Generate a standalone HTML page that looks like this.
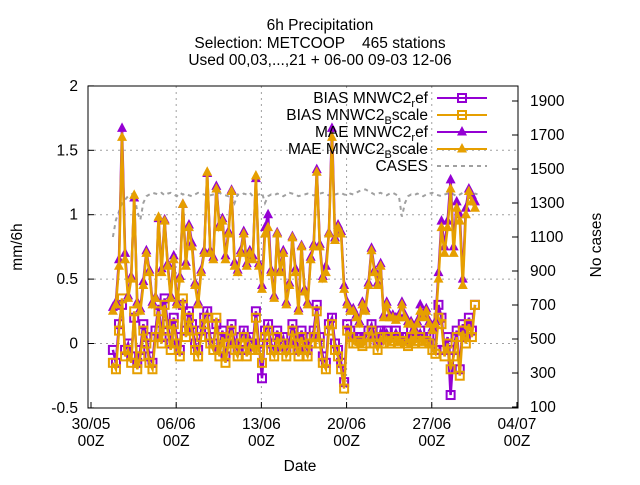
<!DOCTYPE html>
<html><head><meta charset="utf-8"><style>
body{margin:0;background:#fff}
svg{font-family:"Liberation Sans","DejaVu Sans",sans-serif}
</style></head><body>
<svg id="c" width="640" height="480" viewBox="0 0 640 480">
<g id="grid"></g>
<g id="axes"></g>
<g id="series"></g>
<g id="legend"></g>
<text x="320" y="30" text-anchor="middle" font-size="15.5">6h Precipitation</text>
<text x="320" y="48" text-anchor="middle" font-size="15.5" style="white-space:pre">Selection: METCOOP    465 stations</text>
<text x="320" y="65" text-anchor="middle" font-size="15.5">Used 00,03,...,21 + 06-00 09-03 12-06</text>
<text x="300" y="471" text-anchor="middle" font-size="15.5">Date</text>
<text transform="translate(22,247) rotate(-90)" text-anchor="middle" font-size="15.5">mm/6h</text>
<text transform="translate(601,245) rotate(-90)" text-anchor="middle" font-size="15.5">No cases</text>
</svg>
<script>
const yTicks=[-0.5,0,0.5,1,1.5,2];
const yTickLabels=["-0.5","0","0.5","1","1.5","2"];
const y2Ticks=[100,300,500,700,900,1100,1300,1500,1700,1900];
const xTicks=[0,7,14,21,28,35];
const xTickLabels=["30/05","06/06","13/06","20/06","27/06","04/07"];
const startDay=1.8, stepDay=0.25;
const maeScale=[0.25,0.3,0.6,1.6,0.65,0.35,0.5,1.15,0.3,0.25,0.45,0.7,0.55,0.3,0.35,0.98,0.55,0.95,0.6,0.35,0.65,0.3,0.5,1.08,0.6,0.9,0.75,0.45,0.3,0.55,0.7,1.33,0.7,0.65,1.2,0.9,0.95,0.65,0.85,1.18,0.6,0.55,0.7,0.85,0.6,0.7,0.65,1.3,0.6,0.42,0.85,0.9,0.55,0.35,0.85,0.55,0.7,0.3,0.45,0.82,0.55,0.25,0.75,0.4,0.3,0.65,0.75,1.33,0.75,0.5,0.55,0.85,1.6,0.8,0.9,0.85,0.42,0.3,0.25,0.25,0.2,0.15,0.3,0.25,0.45,0.72,0.55,0.45,0.6,0.2,0.3,0.2,0.2,0.18,0.2,0.3,0.2,0.15,0.15,0.1,0.15,0.25,0.2,0.25,0.15,0.1,0.15,0.5,0.9,0.7,0.9,1.2,0.7,1.05,0.95,0.45,1.0,1.18,1.1,1.05];
const maeRef=[0.28,0.32,0.65,1.67,0.7,0.37,0.52,1.13,0.32,0.27,0.48,0.72,0.57,0.32,0.36,0.97,0.58,0.96,0.62,0.37,0.68,0.32,0.52,1.08,0.63,0.92,0.78,0.47,0.32,0.57,0.72,1.32,0.72,0.67,1.22,0.92,0.97,0.68,0.87,1.19,0.63,0.57,0.72,0.87,0.62,0.72,0.68,1.28,0.62,0.45,0.9,1.0,0.57,0.37,0.86,0.57,0.72,0.32,0.47,0.83,0.58,0.27,0.76,0.42,0.32,0.67,0.77,1.35,0.77,0.52,0.6,0.86,1.67,0.82,0.92,0.87,0.45,0.32,0.27,0.27,0.22,0.17,0.32,0.27,0.47,0.74,0.57,0.47,0.62,0.22,0.32,0.22,0.22,0.2,0.22,0.32,0.22,0.17,0.17,0.12,0.17,0.3,0.22,0.27,0.17,0.12,0.17,0.55,0.95,0.75,0.95,1.27,0.75,1.1,1.0,0.5,1.05,1.2,1.15,1.1];
const biasScale=[-0.15,-0.2,0.1,0.35,-0.1,-0.05,-0.15,0.25,-0.2,-0.1,0.1,0.0,-0.15,-0.2,0.05,0.25,0.0,0.3,0.1,-0.05,0.15,0.0,-0.1,0.35,0.05,0.2,0.1,-0.05,-0.1,0.05,0.15,0.2,0.0,-0.05,0.2,-0.1,0.05,-0.15,0.0,0.1,-0.05,-0.1,0.0,0.05,-0.1,0.0,-0.05,0.2,-0.05,-0.15,0.05,0.1,-0.05,-0.1,0.05,-0.05,0.0,-0.1,-0.05,0.1,0.0,-0.1,0.05,-0.05,-0.1,0.0,0.05,0.25,0.0,-0.15,-0.2,0.1,0.15,-0.05,-0.1,-0.2,-0.35,0.1,0.05,0.0,0.0,0.02,-0.02,0.0,0.05,0.1,0.0,-0.05,0.05,0.0,0.05,0.0,0.02,0.05,0.0,0.02,0.0,-0.02,0.05,0.0,0.02,0.05,0.0,0.02,0.0,-0.05,-0.08,0.2,0.15,-0.1,0.0,-0.2,-0.1,0.05,-0.25,0.1,0.0,0.15,0.05,0.3];
const biasRef=[-0.05,-0.15,0.15,0.3,-0.05,0.0,-0.1,0.2,-0.15,-0.05,0.15,0.05,-0.1,-0.15,0.1,0.3,0.05,0.35,0.15,0.0,0.2,0.05,-0.05,0.3,0.1,0.25,0.15,0.0,-0.05,0.1,0.2,0.25,0.05,0.0,0.15,-0.05,0.1,-0.1,0.05,0.15,0.0,-0.05,0.05,0.1,-0.05,0.05,0.0,0.25,0.0,-0.27,0.1,0.15,0.0,-0.05,0.1,0.0,0.05,-0.05,0.0,0.15,0.05,-0.05,0.1,0.0,-0.05,0.05,0.1,0.3,0.05,-0.1,-0.15,0.15,0.2,0.0,-0.05,-0.15,-0.3,0.15,0.1,0.05,0.05,0.05,0.0,0.05,0.1,0.15,0.05,0.0,0.1,0.05,0.1,0.05,0.05,0.1,0.05,0.05,0.05,0.0,0.1,0.05,0.05,0.1,0.05,0.05,0.05,0.0,-0.05,0.3,0.2,-0.05,0.05,-0.4,-0.05,0.1,-0.2,0.15,0.05,0.2,0.1,0.3];
const cases=[1100,1200,1250,1300,1320,1340,1350,1360,1250,1200,1300,1340,1350,1360,1355,1350,1360,1345,1355,1360,1350,1340,1360,1350,1355,1345,1340,1350,1360,1355,1350,1340,1345,1350,1355,1360,1350,1345,1340,1355,1300,1350,1345,1355,1350,1360,1340,1345,1350,1360,1300,1340,1350,1345,1355,1350,1340,1350,1360,1355,1350,1340,1345,1350,1355,1350,1345,1350,1355,1360,1350,1345,1340,1350,1355,1360,1350,1345,1355,1350,1360,1370,1375,1380,1370,1360,1350,1355,1360,1350,1345,1355,1360,1350,1340,1220,1300,1340,1350,1345,1355,1350,1340,1350,1355,1360,1350,1345,1340,1350,1355,1360,1350,1340,1350,1360,1355,1350,1345,1355,1350];
const X0=88,X1=518,Y0=86,Y1=408;
const xs=d=>91+d*12.17;
const ys=v=>343.5-v*128.8;
const y2s=c=>407-(c-100)*0.17;
const NS="http://www.w3.org/2000/svg";
function mk(p,t,a){const e=document.createElementNS(NS,t);for(const k in a)e.setAttribute(k,a[k]);p.appendChild(e);return e;}
const grid=document.getElementById('grid'),axes=document.getElementById('axes'),ser=document.getElementById('series'),leg=document.getElementById('legend');
yTicks.forEach((v,i)=>{const y=ys(v);
 if(v>-0.5&&v<2){const g=mk(grid,'line',{x1:X0,x2:X1,y1:y,y2:y,stroke:'#a0a0a0','stroke-dasharray':'2,4','stroke-width':1});
 
 }
 mk(axes,'line',{x1:X0,x2:X0+6,y1:y,y2:y,stroke:'#000'});
 const t=mk(axes,'text',{x:X0-10,y:y+5,'text-anchor':'end','font-size':15.5});t.textContent=yTickLabels[i];
 
 });
y2Ticks.forEach(c=>{const y=y2s(c);
 mk(axes,'line',{x1:X1-6,x2:X1,y1:y,y2:y,stroke:'#000'});
 const t=mk(axes,'text',{x:X1+12,y:y+5,'font-size':15.5});t.textContent=c;
 
 });
xTicks.forEach((d,i)=>{const x=xs(d);
 if(d>0&&d<35){const g=mk(grid,'line',{x1:x,x2:x,y1:Y0,y2:Y1,stroke:'#a0a0a0','stroke-dasharray':'2,4'});
 
 }
 mk(axes,'line',{x1:x,x2:x,y1:Y1,y2:Y1-6,stroke:'#000'});
 const t=mk(axes,'text',{x:x,y:429,'text-anchor':'middle','font-size':15.5});t.textContent=xTickLabels[i];
 
 
 const t2=mk(axes,'text',{x:x,y:446,'text-anchor':'middle','font-size':15.5});t2.textContent='00Z';
 
 });
const fr=mk(axes,'rect',{x:X0,y:Y0,width:X1-X0,height:Y1-Y0,fill:'none',stroke:'#000'});


function pts(arr,f){return arr.map((v,i)=>xs(startDay+i*stepDay).toFixed(1)+','+f(v).toFixed(1)).join(' ');}
function sq(p,x,y,col){mk(p,'rect',{x:x-4,y:y-4,width:8,height:8,fill:'none',stroke:col,'stroke-width':2});}
function tri(p,x,y,col){mk(p,'polygon',{points:`${x},${y-6} ${x-5},${y+3.5} ${x+5},${y+3.5}`,fill:col});}
const cl=mk(ser,'polyline',{points:pts(cases,y2s),fill:'none',stroke:'#a0a0a0','stroke-width':2,'stroke-dasharray':'4,4'});


const defs=[[biasRef,'#9400d3',sq,'bias-ref'],[biasScale,'#e69f00',sq,'bias-scale'],[maeRef,'#9400d3',tri,'mae-ref'],[maeScale,'#e69f00',tri,'mae-scale']];
defs.forEach(([arr,col,m,nm])=>{const g=mk(ser,'g',{});
 
 
 mk(g,'polyline',{points:pts(arr,ys),fill:'none',stroke:col,'stroke-width':2.5});
 arr.forEach((v,i)=>m(g,xs(startDay+i*stepDay),ys(v),col));});
const labs=[['BIAS MNWC2','r','ef','#9400d3',sq],['BIAS MNWC2','B','scale','#e69f00',sq],['MAE MNWC2','r','ef','#9400d3',tri],['MAE MNWC2','B','scale','#e69f00',tri]];
labs.forEach((l,i)=>{const y=98+i*17;const g=mk(leg,'g',{});
 
 
 const t=mk(g,'text',{x:428,y:y+5,'text-anchor':'end','font-size':15.5});
 t.innerHTML=l[0]+'<tspan dy="4" font-size="11">'+l[1]+'</tspan><tspan dy="-4">'+l[2]+'</tspan>';
 mk(g,'line',{x1:437,x2:487,y1:y,y2:y,stroke:l[3],'stroke-width':2});l[4](g,462,y,l[3]);});
const cg=mk(leg,'g',{});


const ct=mk(cg,'text',{x:428,y:171,'text-anchor':'end','font-size':15.5});ct.textContent='CASES';
mk(cg,'line',{x1:437,x2:487,y1:166,y2:166,stroke:'#a0a0a0','stroke-width':2,'stroke-dasharray':'4,4'});
</script>
</body></html>
